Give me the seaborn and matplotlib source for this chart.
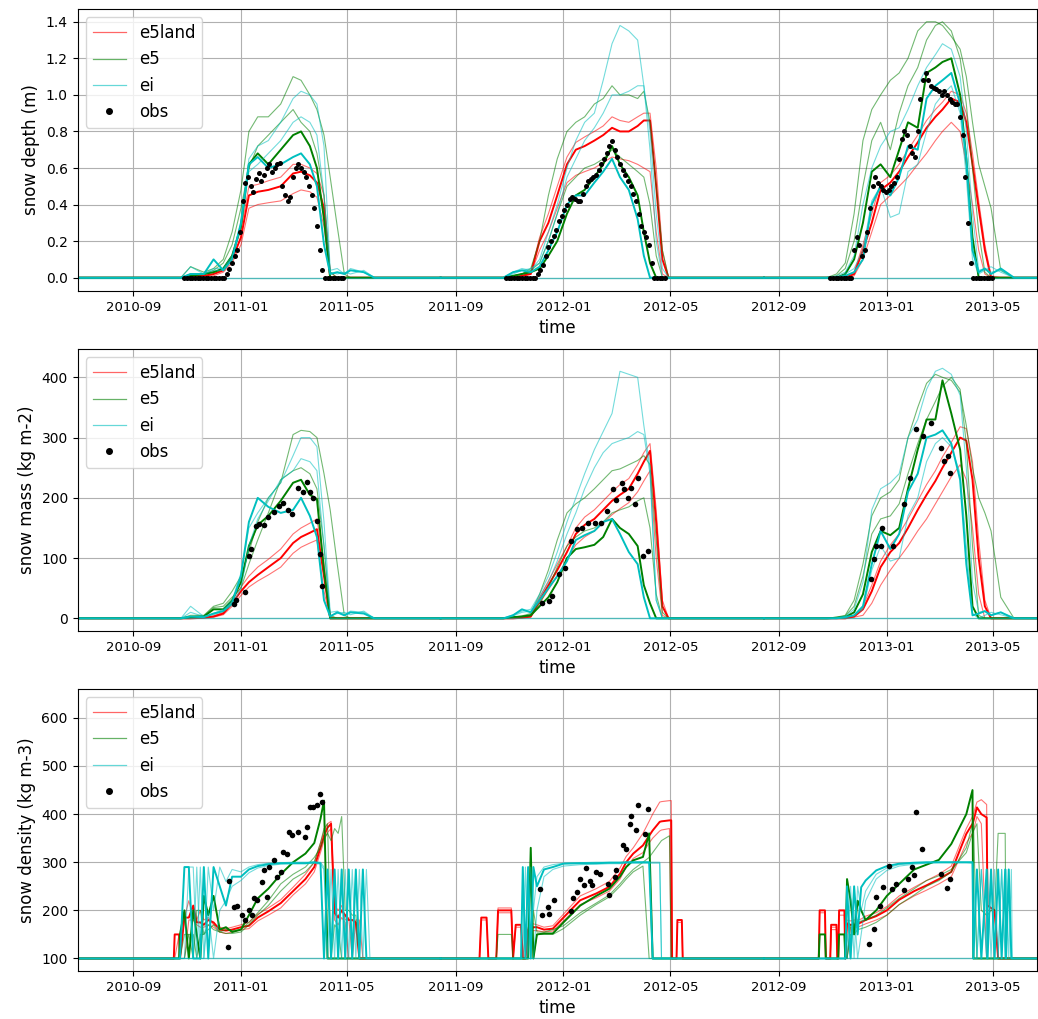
import matplotlib
matplotlib.use("Agg")
import matplotlib.pyplot as plt
import matplotlib.dates as mdates
from matplotlib.lines import Line2D
import pandas as pd
import seaborn as sns

# ------------------------------------------------------------------ data
PRODUCTS = ["e5land", "e5", "ei"]
COLORS = {"e5land": "#ff0000", "e5": "#008000", "ei": "#00bfbf"}
FULL_RANGE = ["2010-06-30", "2013-06-30"]

# node dates used for snow depth and snow mass (one list per winter)
SEASON_DATES_1 = ["2010-06-30", "2010-10-25", "2010-11-05", "2010-11-20", "2010-12-01", "2010-12-12",
                  "2010-12-22", "2011-01-01", "2011-01-10", "2011-01-20", "2011-02-01", "2011-02-15",
                  "2011-03-01", "2011-03-10", "2011-03-20", "2011-03-28", "2011-04-05", "2011-04-12",
                  "2011-04-20", "2011-04-28", "2011-05-05", "2011-05-20", "2011-06-01", "2011-08-15"]
SEASON_DATES_2 = ["2011-08-15", "2011-10-25", "2011-11-05", "2011-11-15", "2011-11-25", "2011-12-05",
                  "2011-12-15", "2011-12-25", "2012-01-05", "2012-01-15", "2012-01-25", "2012-02-05",
                  "2012-02-15", "2012-02-25", "2012-03-05", "2012-03-15", "2012-03-25", "2012-04-01",
                  "2012-04-08", "2012-04-15", "2012-04-22", "2012-04-29", "2012-05-10", "2012-08-15"]
SEASON_DATES_3 = ["2012-08-15", "2012-10-25", "2012-11-05", "2012-11-15", "2012-11-25", "2012-12-05",
                  "2012-12-15", "2012-12-25", "2013-01-05", "2013-01-15", "2013-01-25", "2013-02-05",
                  "2013-02-15", "2013-02-25", "2013-03-05", "2013-03-15", "2013-03-25", "2013-04-01",
                  "2013-04-08", "2013-04-15", "2013-04-22", "2013-04-29", "2013-05-10", "2013-05-25",
                  "2013-06-30"]

# snow depth (m): first member drawn bold, the others thin
DEPTH_S1_E5LAND = [
    [0, 0, 0.01, 0.01, 0.02, 0.04, 0.10, 0.22, 0.45, 0.47, 0.48, 0.50, 0.57, 0.58, 0.56, 0.52, 0.38, 0, 0, 0, 0, 0, 0, 0],
    [0, 0, 0.01, 0.02, 0.03, 0.05, 0.12, 0.26, 0.50, 0.51, 0.53, 0.55, 0.62, 0.62, 0.60, 0.57, 0.45, 0.03, 0, 0, 0, 0, 0, 0],
    [0, 0, 0, 0.01, 0.01, 0.03, 0.08, 0.18, 0.38, 0.40, 0.41, 0.42, 0.46, 0.48, 0.47, 0.44, 0.28, 0, 0, 0, 0, 0, 0, 0]]
DEPTH_S1_E5 = [
    [0, 0, 0.01, 0.02, 0.03, 0.05, 0.12, 0.28, 0.62, 0.68, 0.62, 0.70, 0.78, 0.80, 0.72, 0.60, 0.32, 0, 0, 0, 0, 0, 0, 0],
    [0, 0, 0.06, 0.03, 0.05, 0.10, 0.25, 0.48, 0.80, 0.88, 0.88, 0.95, 1.10, 1.08, 1.00, 0.92, 0.78, 0.55, 0.28, 0.02, 0, 0, 0, 0],
    [0, 0, 0.02, 0.02, 0.04, 0.08, 0.18, 0.38, 0.60, 0.72, 0.78, 0.85, 0.92, 0.85, 0.80, 0.68, 0.45, 0.03, 0, 0, 0, 0, 0, 0]]
DEPTH_S1_EI = [
    [0, 0, 0.02, 0.02, 0.10, 0.04, 0.10, 0.30, 0.62, 0.66, 0.60, 0.62, 0.66, 0.68, 0.62, 0.50, 0.18, 0.02, 0.03, 0.02, 0.04, 0.03, 0, 0],
    [0, 0, 0.06, 0.02, 0.05, 0.05, 0.12, 0.30, 0.65, 0.72, 0.75, 0.85, 0.98, 1.02, 1.00, 0.95, 0.72, 0.04, 0.05, 0.02, 0.05, 0.03, 0, 0],
    [0, 0, 0.02, 0.02, 0.04, 0.04, 0.10, 0.28, 0.58, 0.62, 0.68, 0.75, 0.85, 0.88, 0.85, 0.78, 0.45, 0.03, 0.02, 0.03, 0.02, 0.04, 0, 0]]
DEPTH_S2_E5LAND = [
    [0, 0, 0, 0.01, 0.02, 0.20, 0.30, 0.45, 0.62, 0.70, 0.72, 0.75, 0.78, 0.82, 0.80, 0.80, 0.83, 0.86, 0.86, 0.50, 0.10, 0, 0, 0],
    [0, 0, 0, 0.01, 0.03, 0.22, 0.35, 0.50, 0.66, 0.74, 0.77, 0.80, 0.83, 0.88, 0.86, 0.85, 0.88, 0.90, 0.90, 0.60, 0.15, 0, 0, 0],
    [0, 0, 0, 0.01, 0.02, 0.15, 0.25, 0.38, 0.52, 0.56, 0.58, 0.60, 0.63, 0.66, 0.65, 0.64, 0.62, 0.60, 0.58, 0.25, 0.02, 0, 0, 0]]
DEPTH_S2_E5 = [
    [0, 0, 0.01, 0.02, 0.03, 0.05, 0.12, 0.20, 0.35, 0.45, 0.48, 0.55, 0.62, 0.72, 0.62, 0.55, 0.45, 0.25, 0.08, 0, 0, 0, 0, 0],
    [0, 0, 0.01, 0.02, 0.05, 0.20, 0.45, 0.65, 0.80, 0.85, 0.88, 0.95, 0.98, 1.05, 1.00, 1.00, 0.98, 1.02, 0.85, 0.50, 0.15, 0, 0, 0],
    [0, 0, 0.01, 0.02, 0.04, 0.08, 0.20, 0.35, 0.50, 0.55, 0.60, 0.62, 0.65, 0.70, 0.66, 0.62, 0.58, 0.55, 0.40, 0.12, 0, 0, 0, 0]]
DEPTH_S2_EI = [
    [0, 0, 0.03, 0.04, 0.03, 0.06, 0.15, 0.25, 0.40, 0.45, 0.45, 0.52, 0.58, 0.65, 0.55, 0.48, 0.32, 0.12, 0, 0, 0, 0, 0, 0],
    [0, 0, 0.03, 0.05, 0.04, 0.10, 0.25, 0.40, 0.60, 0.75, 0.85, 0.90, 1.08, 1.28, 1.38, 1.35, 1.30, 1.05, 0.80, 0.35, 0.05, 0, 0, 0],
    [0, 0, 0.02, 0.04, 0.05, 0.08, 0.20, 0.35, 0.55, 0.65, 0.75, 0.82, 0.90, 1.00, 1.00, 1.02, 1.05, 1.05, 0.70, 0.20, 0, 0, 0, 0]]
DEPTH_S3_E5LAND = [
    [0, 0, 0, 0, 0.02, 0.15, 0.30, 0.48, 0.52, 0.58, 0.66, 0.74, 0.82, 0.88, 0.92, 0.98, 0.96, 0.85, 0.62, 0.38, 0.15, 0, 0, 0, 0],
    [0, 0, 0, 0, 0.03, 0.18, 0.35, 0.52, 0.56, 0.62, 0.70, 0.78, 0.86, 0.92, 0.96, 1.02, 1.00, 0.90, 0.68, 0.42, 0.18, 0.01, 0, 0, 0],
    [0, 0, 0, 0, 0.01, 0.10, 0.25, 0.40, 0.45, 0.50, 0.55, 0.62, 0.68, 0.75, 0.80, 0.85, 0.80, 0.62, 0.40, 0.15, 0.02, 0, 0, 0, 0]]
DEPTH_S3_E5 = [
    [0, 0, 0, 0.02, 0.10, 0.30, 0.58, 0.62, 0.55, 0.70, 0.85, 0.82, 1.12, 1.15, 1.18, 1.20, 1.00, 0.65, 0.22, 0, 0, 0, 0, 0, 0],
    [0, 0, 0.02, 0.08, 0.35, 0.75, 0.92, 1.00, 1.08, 1.12, 1.20, 1.35, 1.40, 1.40, 1.38, 1.32, 1.25, 1.10, 0.85, 0.62, 0.50, 0.38, 0.04, 0, 0],
    [0, 0, 0.01, 0.05, 0.20, 0.50, 0.75, 0.85, 0.70, 0.90, 1.05, 1.15, 1.30, 1.38, 1.40, 1.35, 1.20, 0.95, 0.60, 0.25, 0.03, 0, 0, 0, 0]]
DEPTH_S3_EI = [
    [0, 0, 0, 0.01, 0.03, 0.10, 0.40, 0.50, 0.45, 0.55, 0.72, 0.70, 0.98, 1.05, 1.08, 1.12, 0.95, 0.65, 0.15, 0.03, 0.05, 0.02, 0.05, 0, 0],
    [0, 0, 0.01, 0.03, 0.12, 0.40, 0.60, 0.72, 0.80, 0.82, 0.92, 1.05, 1.15, 1.22, 1.28, 1.25, 1.10, 0.80, 0.35, 0.04, 0.05, 0.03, 0.04, 0, 0],
    [0, 0, 0, 0.02, 0.05, 0.15, 0.42, 0.50, 0.33, 0.35, 0.58, 0.62, 0.80, 0.95, 1.00, 1.05, 0.90, 0.55, 0.10, 0.02, 0.04, 0.06, 0.03, 0, 0]]

# snow mass (kg m-2)
MASS_S1_E5LAND = [
    [0, 0, 0, 1, 3, 8, 25, 45, 60, 72, 85, 100, 125, 135, 142, 148, 70, 0, 0, 0, 0, 0, 0, 0],
    [0, 0, 0, 1, 4, 10, 30, 52, 70, 85, 98, 115, 140, 150, 158, 165, 90, 2, 0, 0, 0, 0, 0, 0],
    [0, 0, 0, 1, 2, 6, 20, 38, 52, 62, 72, 85, 108, 118, 125, 130, 45, 0, 0, 0, 0, 0, 0, 0]]
MASS_S1_E5 = [
    [0, 0, 2, 3, 15, 15, 30, 60, 120, 155, 170, 195, 225, 230, 205, 198, 80, 0, 0, 0, 0, 0, 0, 0],
    [0, 0, 5, 5, 20, 25, 45, 70, 110, 160, 200, 225, 305, 312, 310, 300, 240, 180, 90, 5, 0, 0, 0, 0],
    [0, 0, 3, 4, 18, 20, 35, 50, 90, 130, 175, 230, 245, 250, 240, 215, 120, 5, 0, 0, 0, 0, 0, 0]]
MASS_S1_EI = [
    [0, 0, 3, 2, 8, 12, 25, 70, 160, 200, 185, 175, 180, 200, 170, 135, 30, 3, 10, 5, 10, 8, 0, 0],
    [0, 0, 20, 3, 8, 15, 30, 75, 150, 175, 200, 225, 270, 300, 300, 285, 160, 10, 12, 6, 12, 10, 0, 0],
    [0, 0, 10, 3, 6, 12, 22, 50, 120, 165, 195, 230, 245, 265, 260, 245, 120, 5, 8, 10, 6, 12, 0, 0]]
MASS_S2_E5LAND = [
    [0, 0, 0, 1, 3, 30, 55, 80, 110, 140, 155, 165, 180, 195, 205, 215, 240, 260, 278, 160, 20, 0, 0, 0],
    [0, 0, 0, 1, 4, 35, 62, 90, 120, 150, 168, 180, 195, 210, 222, 232, 255, 275, 290, 180, 30, 0, 0, 0],
    [0, 0, 0, 1, 2, 25, 48, 70, 98, 122, 135, 145, 158, 172, 182, 192, 210, 228, 245, 100, 5, 0, 0, 0]]
MASS_S2_E5 = [
    [0, 0, 2, 3, 5, 20, 35, 60, 100, 115, 118, 122, 135, 165, 150, 140, 120, 55, 25, 0, 0, 0, 0, 0],
    [0, 0, 2, 4, 8, 40, 80, 130, 175, 190, 200, 215, 230, 245, 248, 255, 262, 270, 255, 130, 10, 0, 0, 0],
    [0, 0, 2, 3, 6, 25, 50, 85, 120, 135, 145, 150, 160, 175, 180, 185, 195, 200, 150, 40, 0, 0, 0, 0]]
MASS_S2_EI = [
    [0, 0, 5, 15, 10, 30, 50, 70, 95, 130, 138, 145, 160, 165, 140, 110, 90, 35, 0, 0, 0, 0, 0, 0],
    [0, 0, 6, 12, 15, 40, 70, 110, 160, 200, 240, 280, 310, 340, 410, 405, 400, 320, 250, 30, 0, 0, 0, 0],
    [0, 0, 4, 10, 12, 35, 60, 95, 140, 175, 215, 250, 275, 290, 295, 300, 310, 305, 240, 30, 0, 0, 0, 0]]
MASS_S3_E5LAND = [
    [0, 0, 0, 0, 3, 15, 45, 85, 110, 125, 150, 180, 205, 228, 250, 275, 300, 295, 230, 100, 20, 0, 0, 0, 0],
    [0, 0, 0, 0, 4, 20, 55, 95, 122, 140, 165, 195, 222, 245, 268, 292, 318, 315, 260, 130, 30, 0, 0, 0, 0],
    [0, 0, 0, 0, 2, 5, 25, 55, 80, 100, 120, 145, 165, 190, 210, 235, 255, 230, 150, 40, 0, 0, 0, 0, 0]]
MASS_S3_E5 = [
    [0, 0, 1, 2, 10, 40, 110, 145, 138, 150, 215, 280, 330, 330, 395, 340, 280, 170, 20, 0, 0, 0, 0, 0, 0],
    [0, 0, 2, 5, 30, 90, 170, 200, 210, 230, 300, 350, 390, 405, 400, 395, 375, 320, 250, 200, 175, 145, 35, 0, 0],
    [0, 0, 1, 4, 20, 70, 140, 165, 170, 190, 240, 290, 330, 360, 385, 400, 380, 290, 120, 5, 0, 0, 0, 0, 0]]
MASS_S3_EI = [
    [0, 0, 0, 2, 5, 20, 90, 145, 115, 140, 210, 240, 300, 305, 312, 290, 230, 90, 5, 8, 12, 5, 10, 0, 0],
    [0, 0, 1, 3, 15, 60, 180, 215, 225, 240, 300, 330, 380, 410, 415, 405, 370, 250, 60, 10, 12, 6, 10, 0, 0],
    [0, 0, 0, 2, 5, 15, 80, 120, 95, 100, 170, 200, 260, 290, 300, 285, 240, 120, 8, 0, 5, 10, 6, 0, 0]]

# snow density (kg m-3): own node dates
DENS_DATES_1 = ["2010-06-30", "2010-10-17", "2010-10-18", "2010-10-23", "2010-10-24", "2010-10-29",
                "2010-11-03", "2010-11-08", "2010-11-12", "2010-11-16", "2010-11-20", "2010-11-25",
                "2010-12-01", "2010-12-08", "2010-12-15", "2010-12-22", "2011-01-01", "2011-01-10",
                "2011-01-20", "2011-02-01", "2011-02-15", "2011-03-01", "2011-03-15", "2011-03-25",
                "2011-04-01", "2011-04-05", "2011-04-09", "2011-04-13", "2011-04-17", "2011-04-21",
                "2011-04-25", "2011-04-29", "2011-05-03", "2011-05-07", "2011-05-11", "2011-05-15",
                "2011-05-19", "2011-05-23", "2011-05-27", "2011-08-15"]
DENS_DATES_2 = ["2011-08-15", "2011-09-28", "2011-09-30", "2011-10-06", "2011-10-08", "2011-10-17",
                "2011-10-19", "2011-11-03", "2011-11-05", "2011-11-08", "2011-11-14", "2011-11-16",
                "2011-11-19", "2011-11-22", "2011-11-25", "2011-11-28", "2011-12-02", "2011-12-10",
                "2011-12-20", "2012-01-01", "2012-01-20", "2012-02-07", "2012-02-22", "2012-03-05",
                "2012-03-12", "2012-03-20", "2012-03-31", "2012-04-07", "2012-04-11", "2012-04-19",
                "2012-04-21", "2012-04-30", "2012-05-02", "2012-05-03", "2012-05-08", "2012-05-09",
                "2012-05-14", "2012-05-15", "2012-08-15"]
DENS_DATES_3 = ["2012-08-15", "2012-10-16", "2012-10-17", "2012-10-23", "2012-10-24", "2012-10-29",
                "2012-10-30", "2012-11-05", "2012-11-06", "2012-11-07", "2012-11-08", "2012-11-14",
                "2012-11-15", "2012-11-17", "2012-11-21", "2012-11-25", "2012-11-29", "2012-12-03",
                "2012-12-08", "2012-12-20", "2013-01-01", "2013-01-15", "2013-02-01", "2013-02-15",
                "2013-03-01", "2013-03-15", "2013-04-01", "2013-04-08", "2013-04-09", "2013-04-13",
                "2013-04-18", "2013-04-24", "2013-04-25", "2013-04-29", "2013-05-03", "2013-05-07",
                "2013-05-11", "2013-05-15", "2013-05-16", "2013-05-19", "2013-05-22", "2013-05-23",
                "2013-06-30"]

DENS_S1_E5LAND = [
    [100, 100, 150, 150, 100, 185, 185, 210, 175, 175, 170, 180, 175, 160, 158, 160, 165, 168, 185, 198,
     215, 240, 265, 290, 330, 355, 372, 380, 195, 185, 200, 190, 180, 180, 175, 100, 100, 100, 100, 100],
    [100, 100, 100, 100, 100, 185, 220, 185, 180, 200, 180, 185, 170, 165, 162, 165, 170, 175, 192, 205,
     222, 248, 275, 300, 340, 365, 380, 385, 210, 200, 210, 180, 185, 100, 180, 180, 100, 100, 100, 100],
    [100, 100, 100, 150, 100, 100, 180, 180, 170, 165, 165, 170, 165, 155, 152, 155, 160, 162, 178, 190,
     205, 232, 255, 280, 320, 345, 362, 370, 180, 170, 185, 175, 100, 100, 100, 100, 100, 100, 100, 100]]
DENS_S1_E5 = [
    [100, 100, 100, 100, 150, 200, 100, 200, 150, 100, 230, 190, 230, 160, 165, 155, 160, 190, 225, 245,
     275, 300, 318, 340, 390, 428, 100, 100, 100, 100, 100, 100, 100, 100, 100, 100, 100, 100, 100, 100],
    [100, 100, 100, 100, 100, 150, 150, 100, 200, 200, 150, 160, 170, 155, 160, 158, 160, 175, 195, 220,
     255, 275, 290, 310, 330, 350, 360, 345, 370, 360, 395, 200, 200, 190, 190, 100, 100, 100, 100, 100],
    [100, 100, 100, 100, 100, 100, 150, 150, 100, 150, 150, 170, 160, 155, 152, 152, 155, 170, 190, 210,
     240, 265, 280, 300, 340, 370, 380, 100, 170, 160, 100, 100, 100, 100, 100, 100, 100, 100, 100, 100]]
DENS_S1_EI = [
    [100, 100, 100, 100, 100, 290, 290, 100, 100, 100, 290, 100, 290, 250, 210, 270, 270, 285, 292, 296,
     298, 298, 298, 300, 298, 100, 285, 100, 285, 100, 285, 100, 285, 100, 285, 100, 285, 100, 100, 100],
    [100, 100, 100, 100, 100, 100, 290, 290, 100, 290, 100, 290, 200, 290, 260, 285, 280, 290, 295, 298,
     299, 300, 300, 300, 300, 290, 100, 285, 100, 285, 100, 285, 100, 285, 100, 285, 100, 285, 100, 100],
    [100, 100, 100, 100, 100, 100, 100, 100, 290, 100, 100, 200, 100, 200, 220, 250, 262, 278, 288, 293,
     296, 297, 297, 298, 296, 285, 100, 100, 285, 100, 285, 100, 285, 100, 285, 100, 100, 100, 100, 100]]
DENS_S2_E5LAND = [
    [100, 100, 185, 185, 100, 100, 200, 200, 100, 170, 170, 100, 100, 160, 160, 165, 165, 160, 162, 185,
     221, 235, 249, 276, 300, 318, 335, 355, 366, 384, 385, 387, 387, 100, 100, 180, 180, 100, 100],
    [100, 100, 180, 180, 100, 100, 205, 205, 100, 165, 165, 100, 150, 165, 170, 172, 170, 165, 168, 192,
     230, 245, 260, 288, 312, 330, 360, 385, 400, 425, 426, 428, 428, 100, 100, 175, 175, 100, 100],
    [100, 100, 100, 100, 100, 100, 195, 195, 100, 100, 100, 100, 100, 150, 155, 158, 158, 155, 157, 178,
     212, 226, 240, 265, 290, 308, 320, 340, 350, 365, 367, 370, 100, 100, 100, 100, 100, 100, 100]]
DENS_S2_E5 = [
    [100, 100, 100, 100, 100, 100, 100, 100, 100, 100, 100, 100, 100, 100, 330, 100, 150, 152, 152, 175,
     210, 230, 245, 270, 290, 304, 311, 360, 100, 100, 100, 100, 100, 100, 100, 100, 100, 100, 100],
    [100, 100, 100, 100, 100, 100, 100, 100, 100, 100, 100, 100, 100, 100, 100, 200, 155, 155, 160, 168,
     195, 215, 232, 255, 270, 285, 300, 310, 320, 340, 345, 355, 100, 100, 100, 100, 100, 100, 100],
    [100, 100, 100, 100, 100, 100, 150, 150, 100, 100, 100, 100, 100, 100, 280, 100, 150, 150, 150, 162,
     190, 212, 228, 250, 265, 280, 292, 100, 100, 100, 100, 100, 100, 100, 100, 100, 100, 100, 100]]
DENS_S2_EI = [
    [100, 100, 100, 100, 100, 100, 100, 100, 100, 100, 100, 290, 100, 290, 100, 290, 250, 285, 290, 297,
     298, 298, 299, 299, 300, 300, 300, 300, 100, 100, 100, 100, 100, 100, 100, 100, 100, 100, 100],
    [100, 100, 100, 100, 100, 100, 100, 100, 100, 100, 100, 100, 290, 100, 290, 200, 270, 290, 295, 298,
     299, 300, 300, 300, 300, 300, 300, 300, 300, 300, 100, 100, 100, 100, 100, 100, 100, 100, 100],
    [100, 100, 100, 100, 100, 100, 100, 100, 100, 100, 100, 100, 100, 100, 100, 100, 200, 270, 285, 292,
     295, 296, 297, 297, 298, 298, 298, 298, 298, 298, 100, 100, 100, 100, 100, 100, 100, 100, 100]]
DENS_S3_E5LAND = [
    [100, 100, 200, 200, 100, 100, 170, 170, 100, 100, 200, 200, 100, 173, 170, 170, 172, 175, 180, 188, 200,
     222, 240, 252, 265, 280, 359, 380, 385, 414, 400, 393, 210, 205, 200, 100, 100, 100, 100, 100, 100, 100, 100],
    [100, 100, 195, 195, 100, 100, 160, 160, 100, 100, 190, 190, 100, 180, 178, 180, 180, 182, 188, 195, 208,
     230, 248, 262, 275, 292, 370, 395, 400, 425, 430, 420, 200, 200, 195, 100, 100, 100, 100, 100, 100, 100, 100],
    [100, 100, 100, 100, 100, 100, 165, 165, 100, 100, 100, 100, 100, 100, 165, 165, 165, 168, 172, 180, 190,
     212, 230, 242, 255, 270, 340, 360, 365, 395, 380, 100, 100, 100, 100, 100, 100, 100, 100, 100, 100, 100, 100]]
DENS_S3_E5 = [
    [100, 100, 150, 150, 100, 100, 100, 100, 100, 100, 150, 150, 100, 265, 220, 150, 220, 200, 180, 200, 230,
     255, 285, 295, 305, 338, 400, 450, 100, 100, 100, 100, 100, 100, 100, 100, 100, 100, 100, 100, 100, 100, 100],
    [100, 100, 100, 100, 100, 100, 100, 100, 100, 100, 100, 100, 100, 100, 170, 170, 175, 178, 180, 190, 205,
     225, 245, 262, 272, 285, 320, 360, 365, 380, 200, 190, 190, 200, 200, 360, 360, 360, 100, 100, 100, 100, 100],
    [100, 100, 100, 100, 100, 100, 100, 100, 100, 100, 100, 100, 100, 100, 150, 150, 160, 162, 165, 175, 190,
     212, 232, 250, 262, 280, 330, 380, 390, 100, 100, 100, 100, 100, 100, 100, 100, 100, 100, 100, 100, 100, 100]]
DENS_S3_EI = [
    [100, 100, 100, 100, 100, 100, 100, 100, 100, 100, 100, 100, 100, 250, 100, 250, 150, 248, 262, 283, 292,
     297, 299, 300, 300, 300, 300, 300, 100, 285, 100, 285, 100, 285, 100, 285, 100, 285, 100, 285, 100, 100, 100],
    [100, 100, 100, 100, 100, 100, 100, 100, 100, 100, 100, 100, 100, 100, 250, 100, 250, 200, 240, 275, 288,
     295, 298, 299, 300, 300, 300, 300, 285, 100, 285, 100, 285, 100, 285, 100, 285, 100, 285, 100, 285, 100, 100],
    [100, 100, 100, 100, 100, 100, 100, 100, 100, 100, 100, 100, 100, 150, 100, 200, 100, 150, 220, 265, 283,
     292, 296, 298, 299, 299, 299, 298, 100, 100, 285, 100, 100, 285, 100, 100, 285, 100, 100, 285, 100, 100, 100]]

# one ei grid point without snow (flat at the floor value all period)
EI_FLAT_DEPTH = [0.0, 0.0]
EI_FLAT_MASS = [0.0, 0.0]
EI_FLAT_DENS = [100.0, 100.0]

# observations: snow depth every 3 days from a start date
OBS_DEPTH_1_START = "2010-10-29"
OBS_DEPTH_1 = [0, 0, 0, 0, 0, 0, 0, 0, 0, 0, 0, 0, 0, 0, 0, 0,
               0.02, 0.05, 0.08, 0.12, 0.15, 0.25,
               0.42, 0.52, 0.55, 0.50, 0.47, 0.54, 0.57, 0.53, 0.56, 0.60,
               0.62, 0.58, 0.60, 0.62, 0.63, 0.50, 0.45, 0.42, 0.44,
               0.55, 0.60, 0.62, 0.60, 0.58, 0.55, 0.50, 0.45, 0.38, 0.28, 0.15,
               0.04, 0, 0, 0, 0, 0, 0, 0, 0]
OBS_DEPTH_2_START = "2011-10-28"
OBS_DEPTH_2 = [0, 0, 0, 0, 0, 0, 0, 0, 0, 0, 0, 0,
               0.02, 0.04, 0.07, 0.12, 0.17, 0.20, 0.23, 0.26, 0.31, 0.34,
               0.37, 0.40, 0.43, 0.44, 0.43, 0.42, 0.42, 0.46, 0.50, 0.53,
               0.54, 0.55, 0.56, 0.59, 0.62, 0.65, 0.68, 0.72, 0.75, 0.70,
               0.66, 0.62, 0.59, 0.56, 0.53, 0.50, 0.46, 0.42, 0.35, 0.28,
               0.25, 0.22, 0.18, 0.08, 0, 0, 0, 0, 0]
OBS_DEPTH_3_START = "2012-10-29"
OBS_DEPTH_3 = [0, 0, 0, 0, 0, 0, 0, 0, 0,
               0.15, 0.22,
               0.18, 0.12, 0.15, 0.25, 0.38, 0.50, 0.55, 0.52, 0.50, 0.48, 0.47,
               0.48, 0.50, 0.52, 0.55, 0.65, 0.76, 0.80, 0.78, 0.72, 0.68,
               0.66, 0.80, 0.98, 1.08, 1.12, 1.08, 1.05, 1.04, 1.03,
               1.02, 1.00, 1.02, 1.00, 0.98, 0.96, 0.95, 0.95, 0.88, 0.78, 0.55,
               0.30, 0.08, 0, 0, 0, 0, 0, 0, 0, 0]

# observations: snow mass
OBS_MASS_1_DATES = ["2010-12-24", "2010-12-26", "2011-01-06", "2011-01-10", "2011-01-12", "2011-01-18",
                    "2011-01-21", "2011-01-27", "2011-02-01", "2011-02-07", "2011-02-13", "2011-02-18",
                    "2011-02-23", "2011-02-28", "2011-03-07", "2011-03-12", "2011-03-17", "2011-03-20",
                    "2011-03-24", "2011-03-28", "2011-04-01", "2011-04-03"]
OBS_MASS_1 = [23, 31, 43, 103, 115, 153, 156, 155, 169, 176, 186, 192, 180, 173, 217, 209, 226, 209, 200, 161, 106, 53]
OBS_MASS_2_DATES = ["2011-12-08", "2011-12-16", "2011-12-19", "2011-12-27", "2012-01-03", "2012-01-10",
                    "2012-01-16", "2012-01-22", "2012-01-29", "2012-02-06", "2012-02-13", "2012-02-19",
                    "2012-02-26", "2012-03-01", "2012-03-07", "2012-03-10", "2012-03-14", "2012-03-18",
                    "2012-03-22", "2012-03-25", "2012-03-31", "2012-04-06"]
OBS_MASS_2 = [26, 29, 37, 73, 84, 128, 148, 150, 159, 159, 159, 178, 214, 197, 225, 214, 200, 217, 189, 233, 103, 112]
OBS_MASS_3_DATES = ["2012-12-14", "2012-12-18", "2012-12-20", "2012-12-25", "2012-12-26", "2013-01-08",
                    "2013-01-21", "2013-01-27", "2013-02-03", "2013-02-11", "2013-02-20", "2013-03-03",
                    "2013-03-07", "2013-03-11", "2013-03-13"]
OBS_MASS_3 = [65, 98, 120, 120, 150, 120, 189, 233, 314, 303, 325, 283, 261, 269, 242]

# observations: snow density
OBS_DENS_1_DATES = ["2010-12-17", "2010-12-19", "2010-12-24", "2010-12-28", "2011-01-02", "2011-01-06",
                    "2011-01-10", "2011-01-14", "2011-01-16", "2011-01-19", "2011-01-25", "2011-01-27",
                    "2011-01-31", "2011-02-02", "2011-02-07", "2011-02-11", "2011-02-15", "2011-02-18",
                    "2011-02-22", "2011-02-24", "2011-02-28", "2011-03-07", "2011-03-15", "2011-03-17",
                    "2011-03-20", "2011-03-24", "2011-03-28", "2011-04-01", "2011-04-03"]
OBS_DENS_1 = [124, 262, 207, 210, 190, 179, 200, 190, 225, 221, 259, 283, 228, 290, 304, 269, 280, 321,
              318, 363, 356, 363, 352, 373, 414, 414, 418, 442, 425]
OBS_DENS_2_DATES = ["2011-12-06", "2011-12-08", "2011-12-14", "2011-12-16", "2011-12-21", "2012-01-09",
                    "2012-01-12", "2012-01-16", "2012-01-20", "2012-01-24", "2012-01-27", "2012-01-31",
                    "2012-02-02", "2012-02-07", "2012-02-11", "2012-02-20", "2012-02-22", "2012-02-28",
                    "2012-03-01", "2012-03-08", "2012-03-12", "2012-03-16", "2012-03-18", "2012-03-23",
                    "2012-03-25", "2012-04-02", "2012-04-06"]
OBS_DENS_2 = [245, 190, 207, 193, 221, 199, 225, 238, 266, 252, 287, 262, 252, 280, 276, 255, 231, 269,
              283, 335, 328, 380, 397, 366, 418, 359, 411]
OBS_DENS_3_DATES = ["2012-12-12", "2012-12-17", "2012-12-20", "2012-12-24", "2012-12-28", "2013-01-03",
                    "2013-01-07", "2013-01-11", "2013-01-21", "2013-01-25", "2013-01-29", "2013-02-01",
                    "2013-02-03", "2013-02-10", "2013-03-03", "2013-03-10", "2013-03-14"]
OBS_DENS_3 = [131, 162, 228, 210, 248, 293, 245, 255, 242, 266, 290, 273, 405, 328, 276, 247, 266]

# ------------------------------------------------------------------ panels
PANELS = [
    dict(ylabel="snow depth (m)", ylim=(-0.073, 1.47), yticks=[0.0, 0.2, 0.4, 0.6, 0.8, 1.0, 1.2, 1.4],
         fmt="{:.1f}", flat=EI_FLAT_DEPTH,
         seasons=[(SEASON_DATES_1, {"e5land": DEPTH_S1_E5LAND, "e5": DEPTH_S1_E5, "ei": DEPTH_S1_EI}),
                  (SEASON_DATES_2, {"e5land": DEPTH_S2_E5LAND, "e5": DEPTH_S2_E5, "ei": DEPTH_S2_EI}),
                  (SEASON_DATES_3, {"e5land": DEPTH_S3_E5LAND, "e5": DEPTH_S3_E5, "ei": DEPTH_S3_EI})],
         obs=[(pd.date_range(OBS_DEPTH_1_START, periods=len(OBS_DEPTH_1), freq="3D"), OBS_DEPTH_1),
              (pd.date_range(OBS_DEPTH_2_START, periods=len(OBS_DEPTH_2), freq="3D"), OBS_DEPTH_2),
              (pd.date_range(OBS_DEPTH_3_START, periods=len(OBS_DEPTH_3), freq="3D"), OBS_DEPTH_3)],
         ms=13),
    dict(ylabel="snow mass (kg m-2)", ylim=(-21, 447), yticks=[0, 100, 200, 300, 400], fmt="{:.0f}",
         flat=EI_FLAT_MASS,
         seasons=[(SEASON_DATES_1, {"e5land": MASS_S1_E5LAND, "e5": MASS_S1_E5, "ei": MASS_S1_EI}),
                  (SEASON_DATES_2, {"e5land": MASS_S2_E5LAND, "e5": MASS_S2_E5, "ei": MASS_S2_EI}),
                  (SEASON_DATES_3, {"e5land": MASS_S3_E5LAND, "e5": MASS_S3_E5, "ei": MASS_S3_EI})],
         obs=[(pd.to_datetime(OBS_MASS_1_DATES), OBS_MASS_1),
              (pd.to_datetime(OBS_MASS_2_DATES), OBS_MASS_2),
              (pd.to_datetime(OBS_MASS_3_DATES), OBS_MASS_3)],
         ms=16),
    dict(ylabel="snow density (kg m-3)", ylim=(74, 660), yticks=[100, 200, 300, 400, 500, 600], fmt="{:.0f}",
         flat=EI_FLAT_DENS,
         seasons=[(DENS_DATES_1, {"e5land": DENS_S1_E5LAND, "e5": DENS_S1_E5, "ei": DENS_S1_EI}),
                  (DENS_DATES_2, {"e5land": DENS_S2_E5LAND, "e5": DENS_S2_E5, "ei": DENS_S2_EI}),
                  (DENS_DATES_3, {"e5land": DENS_S3_E5LAND, "e5": DENS_S3_E5, "ei": DENS_S3_EI})],
         obs=[(pd.to_datetime(OBS_DENS_1_DATES), OBS_DENS_1),
              (pd.to_datetime(OBS_DENS_2_DATES), OBS_DENS_2),
              (pd.to_datetime(OBS_DENS_3_DATES), OBS_DENS_3)],
         ms=16),
]

# ------------------------------------------------------------------ figure
W, H = 1038, 1019
fig = plt.figure(figsize=(W / 100, H / 100), dpi=100)
AX_TOPS = [9, 349, 689]
AX_H = 282
LEFT, RIGHT = 77.5, 1037

for panel, top in zip(PANELS, AX_TOPS):
    ax = fig.add_axes([LEFT / W, 1 - (top + AX_H) / H, (RIGHT - LEFT) / W, AX_H / H])
    ax.grid(True, color="#b0b0b0", lw=0.8)
    ax.set_axisbelow(True)
    for prod in PRODUCTS:
        col = COLORS[prod]
        for dates, series in panel["seasons"]:
            x = pd.to_datetime(dates)
            members = series[prod]
            for vals in members[1:]:
                sns.lineplot(x=x, y=vals, ax=ax, color=col, lw=0.8, alpha=0.55,
                             estimator=None, sort=False, legend=False)
            sns.lineplot(x=x, y=members[0], ax=ax, color=col, lw=1.4, alpha=1.0,
                         estimator=None, sort=False, legend=False)
        if prod == "ei":
            sns.lineplot(x=pd.to_datetime(FULL_RANGE), y=panel["flat"], ax=ax, color=col, lw=1.0,
                         alpha=0.55, estimator=None, sort=False, legend=False)
    for d, v in panel["obs"]:
        sns.scatterplot(x=d, y=v, ax=ax, color="k", s=panel["ms"], linewidth=0, zorder=5, legend=False)

    ax.set_xlim(pd.Timestamp("2010-06-30"), pd.Timestamp("2013-06-20"))
    ax.set_ylim(*panel["ylim"])
    ax.set_yticks(panel["yticks"])
    ax.set_yticklabels([panel["fmt"].format(t) for t in panel["yticks"]])
    ax.xaxis.set_major_locator(mdates.MonthLocator(bymonth=[1, 5, 9]))
    ax.xaxis.set_major_formatter(mdates.DateFormatter("%Y-%m"))
    ax.tick_params(axis="x", labelsize=9.5)
    ax.tick_params(axis="y", labelsize=10)
    ax.set_xlabel("time", fontsize=12)
    ax.set_ylabel(panel["ylabel"], fontsize=12)

    handles = [Line2D([], [], color=COLORS["e5land"], lw=0.9, alpha=0.6, label="e5land"),
               Line2D([], [], color=COLORS["e5"], lw=0.9, alpha=0.6, label="e5"),
               Line2D([], [], color=COLORS["ei"], lw=0.9, alpha=0.6, label="ei"),
               Line2D([], [], ls="", marker="o", color="k", markersize=4, label="obs")]
    ax.legend(handles=handles, loc="upper left", fontsize=12)

fig.savefig("out.png", dpi=100)
